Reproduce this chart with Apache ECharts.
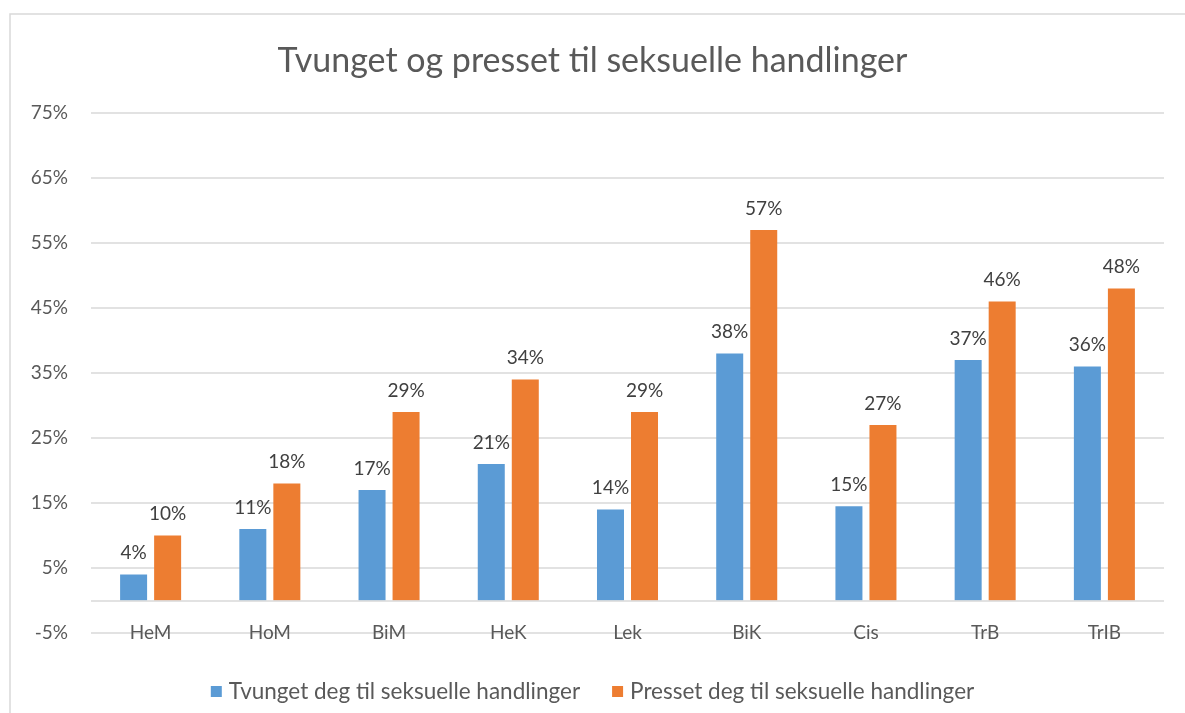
<!DOCTYPE html>
<html>
<head>
<meta charset="utf-8">
<script src="https://cdn.jsdelivr.net/npm/echarts@6/dist/echarts.min.js"></script>
<style>
  html, body { margin: 0; padding: 0; background: #ffffff; }
  #chart { width: 1185px; height: 713px; }
</style>
</head>
<body>
<div id="chart"></div>
<script>
// Groups along the category axis
const categories = ['HeM', 'HoM', 'BiM', 'HeK', 'Lek', 'BiK', 'Cis', 'TrB', 'TrIB'];

// Shares in percent for each group
const tvunget = [4, 11, 17, 21, 14, 38, 14.5, 37, 36];
const presset = [10, 18, 29, 34, 29, 57, 27, 46, 48];

const seriesNames = [
  'Tvunget deg til seksuelle handlinger',
  'Presset deg til seksuelle handlinger'
];

const FONT = 'Lato, "Liberation Sans", sans-serif';
const TEXT = '#595959';
const GRID = '#d9d9d9';

const chart = echarts.init(document.getElementById('chart'), null, { renderer: 'canvas' });

const barLabel = {
  show: true,
  position: 'top',
  distance: 12,
  fontFamily: FONT,
  fontSize: 19,
  color: '#404040',
  formatter: p => Math.round(p.value) + '%'
};

chart.setOption({
  backgroundColor: '#ffffff',
  animation: false,
  title: {
    text: 'Tvunget og presset til seksuelle handlinger',
    left: 'center',
    top: 39,
    textStyle: { fontFamily: FONT, fontSize: 34, fontWeight: 'normal', color: TEXT }
  },
  legend: {
    top: 675,
    left: 'center',
    icon: 'rect',
    itemWidth: 11,
    itemHeight: 11,
    itemGap: 32,
    textStyle: { fontFamily: FONT, fontSize: 22.5, color: TEXT, padding: [0, 0, 0, 2] }
  },
  grid: { left: 91, right: 21, top: 113, bottom: 80 },
  xAxis: {
    type: 'category',
    data: categories,
    axisLine: { show: false, onZero: false },
    axisTick: { show: false },
    axisLabel: { margin: -10, fontFamily: FONT, fontSize: 19, color: TEXT }
  },
  yAxis: {
    type: 'value',
    min: -5,
    max: 75,
    interval: 10,
    axisLine: { show: false },
    axisTick: { show: false },
    axisLabel: { margin: 23, fontFamily: FONT, fontSize: 19, color: TEXT, formatter: v => v + '%' },
    splitLine: { lineStyle: { color: GRID, width: 1.5 } }
  },
  series: [
    {
      name: seriesNames[0],
      type: 'bar',
      data: tvunget,
      barWidth: 27,
      barGap: '26%',
      itemStyle: { color: '#5b9bd5' },
      label: barLabel,
      markLine: {
        silent: true,
        symbol: 'none',
        label: { show: false },
        lineStyle: { color: GRID, width: 1.5, type: 'solid' },
        data: [{ yAxis: 0 }]
      }
    },
    {
      name: seriesNames[1],
      type: 'bar',
      data: presset,
      barWidth: 27,
      barGap: '26%',
      itemStyle: { color: '#ed7d31' },
      label: barLabel
    }
  ],
  graphic: [
    {
      type: 'rect',
      silent: true,
      shape: { x: 10, y: 14, width: 1300, height: 900 },
      style: { fill: 'none', stroke: GRID, lineWidth: 1.5 }
    }
  ]
});
</script>
</body>
</html>
